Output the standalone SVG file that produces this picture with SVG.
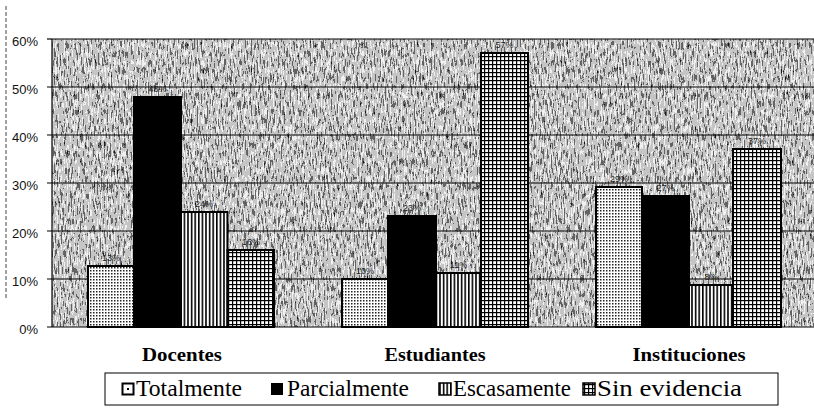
<svg xmlns="http://www.w3.org/2000/svg" width="814" height="410" viewBox="0 0 814 410">
<style>
.ylab{font-family:"Liberation Sans",Arial,sans-serif;font-size:13px;fill:#111;text-anchor:end}
.cat{font-family:"Liberation Serif","DejaVu Serif","Times New Roman",serif;font-size:19.5px;font-weight:bold;fill:#000;text-anchor:middle}
.leg{font-family:"Liberation Serif","DejaVu Serif","Times New Roman",serif;font-size:23px;fill:#000}
.val{font-family:"Liberation Sans",Arial,sans-serif;font-size:9px;fill:#222;text-anchor:middle}
.grid{stroke:#000;stroke-width:1.2}
.bar{stroke:#000;stroke-width:2}
.tot{fill:url(#pDots)}
.par{fill:#000}
.esc{fill:url(#pVert)}
.sin{fill:url(#pGrid)}
</style>
<defs>
<filter id="grain" x="0" y="0" width="100%" height="100%" color-interpolation-filters="sRGB">
<feTurbulence type="fractalNoise" baseFrequency="0.7 0.12" numOctaves="3" seed="7"/>
<feColorMatrix type="matrix" values="1 0 0 0 0  1 0 0 0 0  1 0 0 0 0  0 0 0 0 1"/>
<feComponentTransfer>
<feFuncR type="discrete" tableValues="0 0.35 0.8 1 1"/>
<feFuncG type="discrete" tableValues="0 0.35 0.8 1 1"/>
<feFuncB type="discrete" tableValues="0 0.35 0.8 1 1"/>
</feComponentTransfer>
</filter>
<pattern id="pDots" width="3" height="3" patternUnits="userSpaceOnUse">
<rect width="3" height="3" fill="#fff"/>
<rect x="0" y="0" width="1.5" height="1.5" fill="#222"/>
</pattern>
<pattern id="pVert" width="3.6" height="4" patternUnits="userSpaceOnUse">
<rect width="3.6" height="4" fill="#fff"/>
<rect x="0" y="0" width="1.6" height="4" fill="#000"/>
</pattern>
<pattern id="pGrid" width="4" height="4" patternUnits="userSpaceOnUse">
<rect width="4" height="4" fill="#fff"/>
<rect x="0" y="0" width="4" height="1.2" fill="#000"/>
<rect x="0" y="0" width="1.2" height="4" fill="#000"/>
</pattern>
</defs>
<rect width="814" height="410" fill="#fff"/>
<line x1="6" y1="6" x2="6" y2="300" stroke="#444" stroke-width="1" stroke-dasharray="4 2"/>

<g id="plot-area">
<rect x="52" y="39" width="762" height="288" fill="#a0a0a0"/>
<rect x="52" y="39" width="762" height="288" filter="url(#grain)" opacity="0.85"/>
</g>

<g id="gridlines">
<line class="grid" x1="52" y1="39" x2="814" y2="39" stroke-width="2"/>
<line class="grid" x1="47" y1="87" x2="814" y2="87"/>
<line class="grid" x1="47" y1="135" x2="814" y2="135"/>
<line class="grid" x1="47" y1="183" x2="814" y2="183"/>
<line class="grid" x1="47" y1="231" x2="814" y2="231"/>
<line class="grid" x1="47" y1="279" x2="814" y2="279"/>
<line class="grid" x1="47" y1="327" x2="814" y2="327" stroke-width="1.5"/>
<line class="grid" x1="47" y1="39" x2="52" y2="39"/>
<line class="grid" x1="52" y1="39" x2="52" y2="327" stroke-width="1.5"/>
</g>

<g id="y-axis-labels">
<text class="ylab" x="38" y="46">60%</text>
<text class="ylab" x="38" y="94">50%</text>
<text class="ylab" x="38" y="142">40%</text>
<text class="ylab" x="38" y="190">30%</text>
<text class="ylab" x="38" y="238">20%</text>
<text class="ylab" x="38" y="286">10%</text>
<text class="ylab" x="38" y="334">0%</text>
</g>

<g id="docentes">
<rect class="bar tot" x="88" y="266" width="46" height="61"/>
<rect class="bar par" x="134" y="97" width="47" height="230"/>
<rect class="bar esc" x="181" y="212" width="46.5" height="115"/>
<rect class="bar sin" x="227.5" y="250" width="46.5" height="77"/>
<text class="val" x="111" y="261">13%</text>
<text class="val" x="157.5" y="92">48%</text>
<text class="val" x="204" y="207">24%</text>
<text class="val" x="251" y="245">16%</text>
<text class="cat" x="182" y="361" textLength="80" lengthAdjust="spacingAndGlyphs">Docentes</text>
</g>

<g id="estudiantes">
<rect class="bar tot" x="342" y="279" width="46" height="48"/>
<rect class="bar par" x="388" y="216" width="48" height="111"/>
<rect class="bar esc" x="436" y="273" width="45" height="54"/>
<rect class="bar sin" x="481" y="53" width="47" height="274"/>
<text class="val" x="365" y="274">10%</text>
<text class="val" x="412" y="211">23%</text>
<text class="val" x="458.5" y="268">11%</text>
<text class="val" x="504.5" y="48">57%</text>
<text class="cat" x="435" y="361" textLength="101" lengthAdjust="spacingAndGlyphs">Estudiantes</text>
</g>

<g id="instituciones">
<rect class="bar tot" x="596" y="187" width="46" height="140"/>
<rect class="bar par" x="642" y="196" width="47" height="131"/>
<rect class="bar esc" x="689" y="285" width="44" height="42"/>
<rect class="bar sin" x="733" y="149" width="48" height="178"/>
<text class="val" x="619" y="182">29%</text>
<text class="val" x="665.5" y="191">27%</text>
<text class="val" x="711" y="280">8%</text>
<text class="val" x="757" y="144">37%</text>
<text class="cat" x="689" y="361" textLength="113" lengthAdjust="spacingAndGlyphs">Instituciones</text>
</g>

<g id="legend">
<rect x="105" y="373" width="673" height="32" fill="#fff" stroke="#000" stroke-width="1"/>
<rect x="122.5" y="383.5" width="11" height="11" fill="#fff" stroke="#000" stroke-width="2"/>
<rect x="127" y="388" width="2" height="2" fill="#000"/>
<text class="leg" x="136" y="396" textLength="106" lengthAdjust="spacingAndGlyphs">Totalmente</text>
<rect x="271" y="383" width="12" height="12" fill="#000"/>
<text class="leg" x="287" y="396" textLength="122" lengthAdjust="spacingAndGlyphs">Parcialmente</text>
<rect x="439" y="383" width="12" height="12" fill="url(#pVert)" stroke="#000" stroke-width="1.5"/>
<text class="leg" x="453" y="396" textLength="118" lengthAdjust="spacingAndGlyphs">Escasamente</text>
<rect x="583" y="383" width="12" height="12" fill="url(#pGrid)" stroke="#000" stroke-width="1.5"/>
<text class="leg" x="597" y="396" textLength="145" lengthAdjust="spacingAndGlyphs">Sin evidencia</text>
</g>
</svg>
